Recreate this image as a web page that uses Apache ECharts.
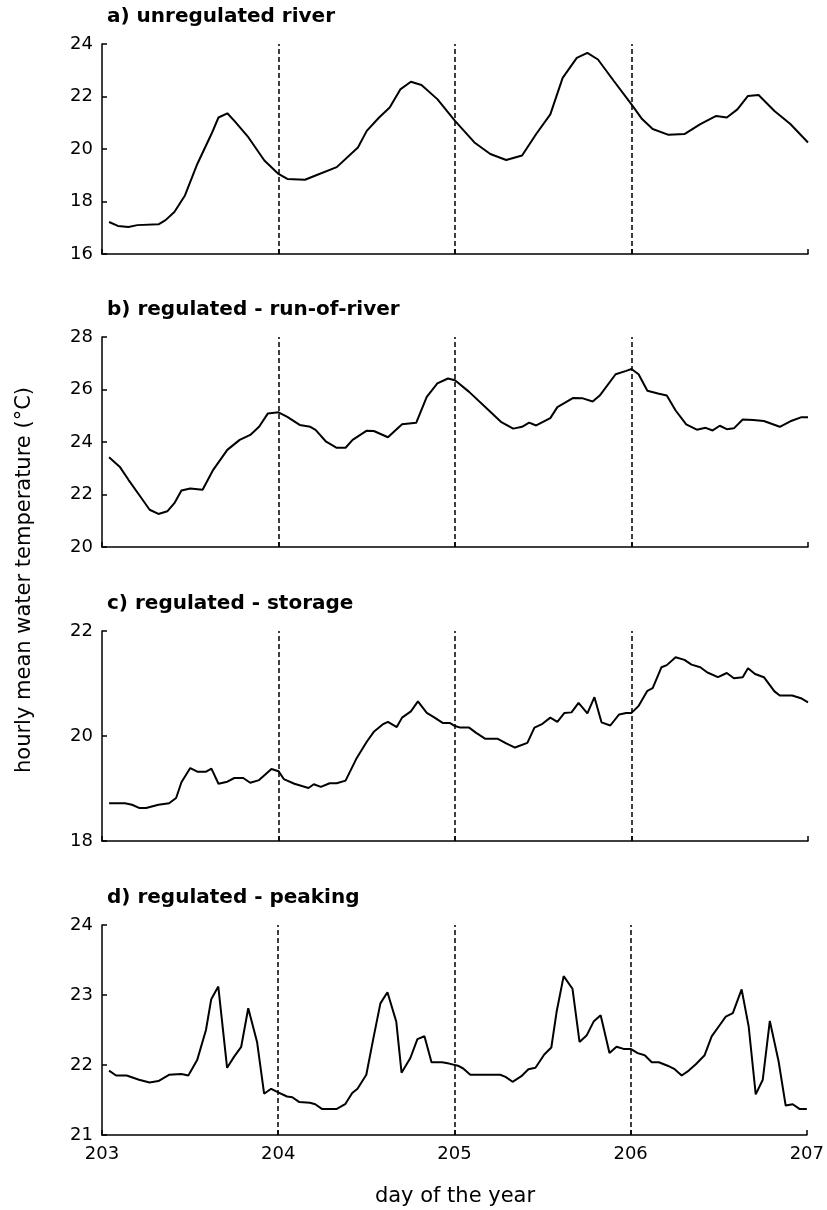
<!DOCTYPE html>
<html>
<head>
<meta charset="utf-8">
<script src="https://cdn.jsdelivr.net/npm/echarts@6/dist/echarts.min.js"></script>
<style>html,body{margin:0;padding:0;background:#fff;}#c{width:827px;height:1210px;}</style>
</head>
<body>
<div id="c"></div>
<script>
// ---- data ----
const panelTitles = ['a) unregulated river', 'b) regulated - run-of-river', 'c) regulated - storage', 'd) regulated - peaking'];
const dayTicks = [203, 204, 205, 206, 207];
const dayLines = [204, 205, 206];

const dayA = [203.04,203.09,203.15,203.2,203.32,203.36,203.41,203.47,203.54,203.62,203.66,203.71,203.75,203.83,203.92,204.0,204.05,204.15,204.21,204.33,204.45,204.5,204.57,204.63,204.69,204.75,204.81,204.9,205.0,205.11,205.2,205.29,205.38,205.46,205.54,205.61,205.69,205.75,205.81,205.9,206.0,206.06,206.12,206.21,206.3,206.39,206.48,206.54,206.6,206.66,206.72,206.81,206.9,207.0];
const tempA = [17.22,17.07,17.03,17.1,17.13,17.29,17.6,18.23,19.43,20.57,21.2,21.36,21.07,20.44,19.56,19.05,18.86,18.83,18.99,19.31,20.06,20.69,21.2,21.58,22.27,22.56,22.44,21.9,21.07,20.25,19.81,19.58,19.75,20.57,21.32,22.71,23.47,23.66,23.41,22.59,21.7,21.14,20.76,20.54,20.57,20.95,21.26,21.2,21.51,22.02,22.06,21.45,20.95,20.25];

const dayB = [203.04,203.10,203.15,203.21,203.27,203.32,203.37,203.41,203.45,203.50,203.57,203.63,203.71,203.78,203.84,203.89,203.94,204.0,204.05,204.12,204.18,204.21,204.27,204.33,204.38,204.42,204.50,204.54,204.62,204.70,204.78,204.84,204.90,204.96,205.0,205.08,205.20,205.26,205.33,205.38,205.42,205.46,205.54,205.58,205.67,205.72,205.78,205.82,205.91,205.97,206.0,206.04,206.09,206.15,206.20,206.25,206.31,206.37,206.42,206.46,206.50,206.54,206.58,206.63,206.69,206.75,206.84,206.90,206.96,207.0];
const tempB = [23.42,23.06,22.56,21.99,21.42,21.26,21.36,21.67,22.15,22.23,22.18,22.94,23.7,24.08,24.27,24.58,25.09,25.13,24.96,24.65,24.58,24.46,24.01,23.78,23.78,24.08,24.43,24.42,24.18,24.68,24.73,25.72,26.23,26.42,26.35,25.91,25.15,24.77,24.51,24.58,24.74,24.63,24.91,25.33,25.68,25.67,25.54,25.77,26.58,26.71,26.78,26.58,25.95,25.85,25.77,25.2,24.67,24.47,24.54,24.44,24.62,24.49,24.52,24.86,24.84,24.8,24.58,24.79,24.94,24.94];

const dayC = [203.04,203.13,203.17,203.21,203.25,203.32,203.38,203.42,203.45,203.50,203.54,203.59,203.62,203.66,203.71,203.75,203.80,203.84,203.89,203.96,204.0,204.03,204.09,204.17,204.20,204.24,204.29,204.33,204.38,204.44,204.50,204.54,204.59,204.62,204.67,204.70,204.75,204.79,204.84,204.88,204.93,204.97,205.0,205.03,205.08,205.12,205.17,205.24,205.29,205.34,205.41,205.45,205.49,205.54,205.58,205.62,205.66,205.70,205.75,205.79,205.83,205.88,205.93,205.97,206.0,206.04,206.09,206.12,206.17,206.20,206.25,206.30,206.34,206.39,206.43,206.49,206.54,206.58,206.63,206.66,206.70,206.75,206.81,206.84,206.91,206.96,207.0];
const tempC = [18.72,18.72,18.69,18.63,18.63,18.69,18.72,18.82,19.12,19.39,19.32,19.32,19.38,19.09,19.13,19.2,19.2,19.11,19.16,19.37,19.33,19.18,19.09,19.01,19.08,19.03,19.1,19.1,19.15,19.56,19.89,20.08,20.22,20.27,20.17,20.35,20.47,20.66,20.44,20.36,20.25,20.25,20.19,20.16,20.16,20.06,19.95,19.95,19.86,19.78,19.87,20.16,20.22,20.35,20.27,20.44,20.45,20.63,20.43,20.74,20.26,20.2,20.41,20.44,20.44,20.57,20.86,20.91,21.31,21.35,21.5,21.45,21.36,21.31,21.21,21.12,21.2,21.1,21.12,21.29,21.18,21.12,20.85,20.77,20.77,20.72,20.64];

const dayD = [203.04,203.08,203.14,203.21,203.27,203.32,203.38,203.45,203.49,203.54,203.59,203.62,203.66,203.71,203.75,203.79,203.83,203.88,203.92,203.96,204.0,204.05,204.08,204.12,204.18,204.21,204.25,204.33,204.38,204.42,204.45,204.50,204.54,204.58,204.62,204.67,204.70,204.75,204.79,204.83,204.87,204.93,204.97,205.02,205.05,205.09,205.26,205.29,205.33,205.38,205.42,205.46,205.51,205.55,205.58,205.62,205.67,205.71,205.75,205.79,205.83,205.88,205.92,205.96,206.0,206.04,206.08,206.12,206.16,206.21,206.25,206.29,206.33,206.37,206.42,206.46,206.50,206.54,206.58,206.63,206.67,206.71,206.75,206.79,206.84,206.88,206.92,206.96,207.0];
const tempD = [21.92,21.85,21.85,21.79,21.75,21.77,21.86,21.87,21.85,22.07,22.5,22.94,23.12,21.96,22.12,22.26,22.81,22.33,21.59,21.66,21.61,21.55,21.54,21.47,21.46,21.44,21.37,21.37,21.44,21.6,21.66,21.86,22.38,22.88,23.04,22.62,21.89,22.1,22.37,22.41,22.04,22.04,22.02,21.99,21.95,21.86,21.86,21.83,21.76,21.84,21.94,21.96,22.15,22.25,22.76,23.27,23.09,22.33,22.42,22.62,22.71,22.17,22.26,22.23,22.23,22.17,22.14,22.04,22.04,21.99,21.94,21.85,21.92,22.01,22.14,22.41,22.55,22.69,22.74,23.08,22.55,21.58,21.79,22.63,22.05,21.42,21.44,21.37,21.37];

const yMin = [16, 20, 18, 21];
const yMax = [24, 28, 22, 24];
const yStep = [2, 2, 2, 1];

// ---- layout ----
const FONT = 'DejaVu Sans';
const gridTops = [44, 337, 631, 925];
const gridH = 210;
const gridLeft = 102;
const gridW = 706;
const days = [dayA, dayB, dayC, dayD];
const temps = [tempA, tempB, tempC, tempD];

const chart = echarts.init(document.getElementById('c'), null, {renderer: 'canvas'});

const grids = [], xAxes = [], yAxes = [], series = [], titles = [];
for (let i = 0; i < 4; i++) {
  grids.push({left: gridLeft, top: gridTops[i], width: gridW, height: gridH, containLabel: false});
  titles.push({
    text: panelTitles[i], left: 107, top: gridTops[i] - 37, padding: 0,
    textStyle: {fontFamily: FONT, fontWeight: 'bold', fontSize: 20, color: '#000'}
  });
  xAxes.push({
    type: 'value', gridIndex: i, min: 203, max: 207, interval: 1,
    axisLine: {show: true, onZero: false, lineStyle: {color: '#000', width: 1.5}},
    axisTick: {show: true, inside: true, length: 5, lineStyle: {color: '#000', width: 1.5}},
    axisLabel: {show: i === 3, margin: 10, color: '#000', fontFamily: FONT, fontSize: 18,
      formatter: v => dayTicks.includes(v) ? String(v) : ''},
    splitLine: {show: false}
  });
  yAxes.push({
    type: 'value', gridIndex: i, min: yMin[i], max: yMax[i], interval: yStep[i],
    axisLine: {show: true, lineStyle: {color: '#000', width: 1.5}},
    axisTick: {show: true, inside: true, length: 5, lineStyle: {color: '#000', width: 1.5}},
    axisLabel: {margin: 9, color: '#000', fontFamily: FONT, fontSize: 18},
    splitLine: {show: false}
  });
  series.push({
    type: 'line', xAxisIndex: i, yAxisIndex: i,
    data: days[i].map((d, k) => [d, temps[i][k]]),
    showSymbol: false, symbol: 'none', smooth: false,
    lineStyle: {color: '#000', width: 2},
    animation: false, silent: true,
    markLine: {
      silent: true, symbol: ['none', 'none'], animation: false,
      label: {show: false},
      lineStyle: {color: '#000', width: 1.5, type: [5, 3]},
      data: dayLines.map(v => ({xAxis: v}))
    }
  });
}

chart.setOption({
  backgroundColor: '#fff',
  animation: false,
  title: titles,
  grid: grids,
  xAxis: xAxes,
  yAxis: yAxes,
  series: series,
  graphic: [
    {type: 'text', x: 25, y: 580, rotation: Math.PI / 2,
      style: {text: 'hourly mean water temperature (°C)', fill: '#000', font: '21px "DejaVu Sans"',
        textAlign: 'center', textVerticalAlign: 'middle'}},
    {type: 'text', x: 455, y: 1197,
      style: {text: 'day of the year', fill: '#000', font: '21px "DejaVu Sans"',
        textAlign: 'center', textVerticalAlign: 'middle'}}
  ]
});
</script>
</body>
</html>
